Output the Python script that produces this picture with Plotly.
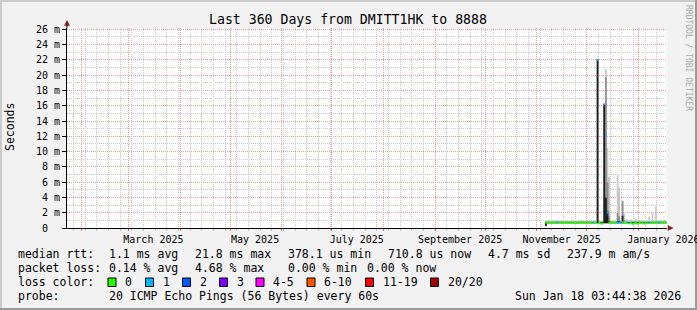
import plotly.graph_objects as go
import pandas as pd

# ---------------- data ----------------
X_START = "2025-01-23 03:44:38"
X_END = "2026-01-18 03:44:38"
Y_MAX_MS = 26.17

DATA_START = "2025-11-06"   # daily bins from here

median_ms = [
    0.72, 0.73, 0.72, 0.72, 0.73, 0.72, 0.72, 0.74, 0.72, 0.72,
    0.72, 0.72, 0.73, 0.72, 0.72, 0.72, 0.73, 0.72, 0.72, 0.72,
    0.72, 0.73, 0.72, 0.72, 0.72, 0.72, 0.73, 0.72, 0.72, 0.72,
    0.72, 22.0, 0.72, 0.60, 0.58, 16.2, 12.2, 2.0, 0.72, 0.72,
    0.72, 0.72, 0.72, 0.72, 0.72, 0.72, 0.72, 0.72, 0.70, 0.72,
    0.58, 0.72, 0.56, 0.60, 0.72, 0.56, 0.72, 0.62, 0.72, 0.58,
    0.72, 0.62, 0.72, 0.72, 0.72, 0.72, 0.72, 0.72, 0.72, 0.72,
    0.72, 0.72, 0.72,
]
loss_cnt = [
    0, 0, 0, 0, 0, 0, 0, 1, 0, 0,
    0, 0, 0, 0, 0, 0, 0, 0, 0, 0,
    0, 0, 0, 0, 0, 0, 0, 0, 1, 0,
    0, 1, 0, 0, 0, 1, 1, 1, 0, 0,
    0, 0, 0, 1, 1, 1, 0, 0, 0, 1,
    0, 0, 0, 0, 0, 0, 0, 0, 0, 0,
    0, 0, 1, 0, 0, 0, 0, 0, 1, 0,
    0, 0, 0,
]
smoke_lo = [
    0.25, 0.62, 0.62, 0.62, 0.62, 0.62, 0.62, 0.62, 0.62, 0.62,
    0.62, 0.62, 0.62, 0.62, 0.62, 0.62, 0.62, 0.62, 0.62, 0.62,
    0.62, 0.62, 0.62, 0.62, 0.62, 0.62, 0.62, 0.62, 0.62, 0.62,
    0.62, 0.62, 0.62, 0.62, 0.62, 0.62, 0.62, 0.62, 0.62, 0.62,
    0.62, 0.62, 0.62, 0.62, 0.62, 0.62, 0.62, 0.62, 0.62, 0.62,
    0.62, 0.62, 0.62, 0.62, 0.62, 0.62, 0.62, 0.62, 0.62, 0.62,
    0.62, 0.62, 0.62, 0.62, 0.62, 0.62, 0.62, 0.62, 0.62, 0.62,
    0.62, 0.62, 0.62,
]
smoke_core = [
    0.8, 0.8, 0.8, 0.8, 0.8, 0.8, 0.8, 0.8, 0.8, 0.8,
    0.8, 0.8, 0.8, 0.8, 0.8, 0.8, 0.8, 0.8, 0.8, 0.8,
    0.8, 0.8, 0.8, 0.8, 0.8, 0.8, 0.8, 0.8, 0.8, 0.8,
    0.8, 22.1, 0.8, 0.8, 0.8, 16.2, 4.0, 2.2, 0.9, 0.8,
    0.8, 0.8, 0.8, 0.9, 0.9, 0.8, 1.6, 0.8, 0.8, 0.8,
    0.8, 0.8, 0.8, 0.8, 0.8, 0.8, 0.8, 0.8, 0.8, 0.8,
    0.8, 0.8, 0.8, 0.8, 0.8, 0.8, 0.8, 0.8, 0.8, 0.8,
    0.8, 0.8, 0.8,
]
smoke_mid = [
    0.82, 0.82, 0.82, 0.82, 0.82, 0.82, 0.82, 0.82, 0.82, 0.82,
    0.82, 0.82, 0.82, 0.82, 0.82, 0.82, 0.82, 0.82, 0.82, 0.82,
    0.82, 0.82, 0.82, 0.82, 0.82, 0.82, 0.82, 0.82, 0.82, 0.82,
    0.82, 22.1, 0.82, 0.82, 0.82, 16.2, 19.8, 6.0, 1.5, 0.82,
    0.82, 0.82, 0.82, 2.0, 1.5, 0.82, 3.5, 1.0, 0.82, 0.82,
    0.82, 0.82, 0.82, 0.82, 0.82, 0.82, 0.82, 0.82, 0.82, 0.82,
    0.82, 0.82, 0.82, 0.82, 0.82, 0.82, 0.82, 0.82, 0.82, 0.82,
    0.82, 0.82, 0.82,
]
smoke_hi = [
    0.9, 0.9, 0.9, 0.9, 0.9, 0.9, 0.9, 0.9, 0.9, 0.9,
    0.9, 0.9, 0.9, 0.9, 0.9, 0.9, 0.9, 0.9, 0.9, 0.9,
    0.9, 0.9, 0.9, 0.9, 0.9, 0.9, 0.9, 0.9, 0.9, 0.9,
    0.9, 22.1, 0.9, 0.9, 0.9, 16.2, 20.8, 10.5, 6.7, 0.9,
    0.9, 0.9, 0.9, 6.9, 5.3, 1.0, 3.6, 1.9, 1.1, 1.1,
    1.0, 1.1, 1.0, 1.0, 1.1, 1.0, 0.9, 1.0, 0.9, 0.9,
    1.0, 0.9, 1.5, 0.9, 2.0, 0.9, 2.8, 1.0, 0.9, 1.0,
    0.9, 1.1, 0.9,
]

loss_labels = ["0", "1", "2", "3", "4-5", "6-10", "11-19", "20/20"]
loss_colors = ["#26ff00", "#00b8ff", "#0059ff", "#7e00ff", "#ff00ff", "#ff5500", "#ff0000", "#a00000"]

y_tick_vals = [0, 2, 4, 6, 8, 10, 12, 14, 16, 18, 20, 22, 24, 26]
y_tick_text = ["0\u00a0\u00a0"] + [f"{v} m" for v in y_tick_vals[1:]]

x_label_vals = ["2025-03-16", "2025-05-16", "2025-07-16", "2025-09-16", "2025-11-16", "2026-01-16"]
x_label_text = ["March 2025", "May 2025", "July 2025", "September 2025", "November 2025", "January 2026"]

title_text = "Last 360 Days from DMITT1HK to 8888"
legend_rows = [
    [(16, "median rtt:"), (107, "1.1 ms avg"), (193, "21.8 ms max"), (286, "378.1 us min"),
     (386, "710.8 us now"), (486, "4.7 ms sd"), (565, "237.9 m am/s")],
    [(16, "packet loss:"), (107, "0.14 % avg"), (193, "4.68 % max"), (286, "0.00 % min"),
     (365, "0.00 % now")],
    [(16, "loss color:")],
    [(16, "probe:"), (107, "20 ICMP Echo Pings (56 Bytes) every 60s"), (513, "Sun Jan 18 03:44:38 2026")],
]
legend_row_y = [254.3, 268.3, 282.3, 296.0]
loss_box_x = [108, 145.5, 182.5, 219.5, 256, 307, 365.5, 430.5]

# ---------------- layout geometry ----------------
W, H = 697, 310
L, R, T, B = 67, 30, 28, 82
PW, PH = W - L - R, H - T - B
FONT = "DejaVu Sans Mono"
AXIS_FS = 10
LEGEND_FS = 11.5


def px(x):
    return (x - L) / PW


def py(y):
    return (H - B - y) / PH


n = len(median_ms)
edges = pd.date_range(DATA_START, periods=n + 1, freq="D")


def ext(v):
    return list(v) + [v[-1]]


fig = go.Figure()

# smoke layers (light -> dark)
for top, col in [(smoke_hi, "#c6c6c6"), (smoke_mid, "#8e8e8e"), (smoke_core, "#1e1e1e")]:
    fig.add_trace(go.Scatter(x=edges, y=ext(smoke_lo), mode="lines", line=dict(width=0, shape="hv"),
                             showlegend=False, hoverinfo="skip"))
    fig.add_trace(go.Scatter(x=edges, y=ext(top), mode="lines", line=dict(width=0, shape="hv"),
                             fill="tonexty", fillcolor=col, showlegend=False, hoverinfo="skip"))


def loss_class(c):
    if c <= 3:
        return c
    if c <= 5:
        return 4
    if c <= 10:
        return 5
    if c <= 19:
        return 6
    return 7


cls = [loss_class(c) for c in loss_cnt]
for k, col in enumerate(loss_colors):
    xs, ys = [], []
    for i in range(n):
        if cls[i] != k:
            continue
        xs += [edges[i], edges[i + 1], None]
        ys += [median_ms[i], median_ms[i], None]
    if xs:
        fig.add_trace(go.Scatter(x=xs, y=ys, mode="lines", line=dict(color=col, width=2),
                                 showlegend=False, hoverinfo="skip", connectgaps=False))

# overlay axis used only for monthly red grid
fig.add_trace(go.Scatter(x=[X_START, X_END], y=[None, None], xaxis="x2", showlegend=False, hoverinfo="skip"))

red_grid = "#f29a9a"
grey_grid = "#cdcdcd"

fig.update_layout(
    width=W, height=H,
    margin=dict(l=L, r=R, t=T, b=B, autoexpand=False),
    paper_bgcolor="#f2f2f2",
    plot_bgcolor="#ffffff",
    font=dict(family=FONT, size=LEGEND_FS, color="#000000"),
    showlegend=False,
    xaxis=dict(
        type="date", range=[X_START, X_END],
        tickvals=x_label_vals, ticktext=x_label_text,
        ticks="", showgrid=False, zeroline=False,
        showline=True, linecolor="#000000", linewidth=1,
        tickfont=dict(family=FONT, size=AXIS_FS, color="#000000"),
        ticklabeloverflow="allow", ticklabelstandoff=2,
        automargin=False,
        minor=dict(dtick=7 * 86400000, tick0="2025-01-27", showgrid=True,
                   gridcolor=grey_grid, griddash="1px,1px", gridwidth=1,
                   ticks="outside", ticklen=2, tickcolor="#c0c0c0"),
        layer="above traces",
    ),
    xaxis2=dict(
        type="date", range=[X_START, X_END], overlaying="x", side="bottom",
        dtick="M1", tick0="2025-02-01", showticklabels=False,
        showgrid=True, gridcolor=red_grid, griddash="1px,1px", gridwidth=1,
        ticks="outside", ticklen=2, tickcolor="#ff6060", zeroline=False,
        automargin=False,
    ),
    yaxis=dict(
        range=[0, Y_MAX_MS], tickvals=y_tick_vals, ticktext=y_tick_text,
        showgrid=True, gridcolor=red_grid, griddash="1px,1px", gridwidth=1,
        ticks="outside", ticklen=4, tickcolor="#000000",
        showline=True, linecolor="#000000", linewidth=1, zeroline=False,
        tickfont=dict(family=FONT, size=AXIS_FS, color="#000000"),
        automargin=False,
        minor=dict(dtick=1, showgrid=True, gridcolor=grey_grid, griddash="1px,1px", gridwidth=1),
    ),
)

shapes = []
anns = []

# title
anns.append(dict(x=px(348), y=py(19.5), xref="paper", yref="paper", text=title_text, showarrow=False,
                 xanchor="center", yanchor="middle", font=dict(family=FONT, size=13.2, color="#000000")))
# y axis title
anns.append(dict(x=px(10), y=py(127), xref="paper", yref="paper", text="Seconds", showarrow=False,
                 textangle=-90, xanchor="center", yanchor="middle", font=dict(family=FONT, size=LEGEND_FS)))
# rrdtool watermark
anns.append(dict(x=px(689), y=py(58), xref="paper", yref="paper", text="RRDTOOL / TOBI OETIKER",
                 showarrow=False, textangle=90, xanchor="center", yanchor="middle",
                 font=dict(family=FONT, size=8, color="#a8a8a8")))

for row, yy in zip(legend_rows, legend_row_y):
    for xx, txt in row:
        anns.append(dict(x=px(xx), y=py(yy), xref="paper", yref="paper", text=txt.replace(" ", "\u00a0"),
                         showarrow=False, xanchor="left", yanchor="middle",
                         font=dict(family=FONT, size=LEGEND_FS, color="#000000")))

for bx, lab, col in zip(loss_box_x, loss_labels, loss_colors):
    shapes.append(dict(type="rect", xref="paper", yref="paper", x0=px(bx), x1=px(bx + 8),
                       y0=py(286.5), y1=py(278), fillcolor=col, line=dict(color="#000000", width=1)))
    anns.append(dict(x=px(bx + 15), y=py(282.3), xref="paper", yref="paper", text=lab,
                     showarrow=False, xanchor="left", yanchor="middle",
                     font=dict(family=FONT, size=LEGEND_FS, color="#000000")))

# axis arrows
arrow_col = "#7f1f1f"
shapes.append(dict(type="path", xref="paper", yref="paper",
                   path=f"M {px(64.5)} {py(25.5)} L {px(69.5)} {py(25.5)} L {px(67)} {py(20.5)} Z",
                   fillcolor=arrow_col, line=dict(color=arrow_col, width=0.5)))
shapes.append(dict(type="line", xref="paper", yref="paper", x0=px(67), x1=px(67), y0=py(28), y1=py(25),
                   line=dict(color="#000000", width=1)))
shapes.append(dict(type="path", xref="paper", yref="paper",
                   path=f"M {px(668)} {py(225.5)} L {px(668)} {py(230.5)} L {px(673)} {py(228)} Z",
                   fillcolor=arrow_col, line=dict(color=arrow_col, width=0.5)))

# 3D frame
shade_a = "#cbcbcb"
shade_b = "#999999"
shapes.append(dict(type="rect", xref="paper", yref="paper", x0=px(0), x1=px(W), y0=py(0), y1=py(2),
                   fillcolor=shade_a, line=dict(width=0), layer="below"))
shapes.append(dict(type="rect", xref="paper", yref="paper", x0=px(0), x1=px(2), y0=py(0), y1=py(H),
                   fillcolor=shade_a, line=dict(width=0), layer="below"))
shapes.append(dict(type="rect", xref="paper", yref="paper", x0=px(W - 2), x1=px(W), y0=py(0), y1=py(H),
                   fillcolor=shade_b, line=dict(width=0), layer="below"))
shapes.append(dict(type="rect", xref="paper", yref="paper", x0=px(0), x1=px(W), y0=py(H - 2), y1=py(H),
                   fillcolor=shade_b, line=dict(width=0), layer="below"))

fig.update_layout(shapes=shapes, annotations=anns)

fig.write_html("out.html")
